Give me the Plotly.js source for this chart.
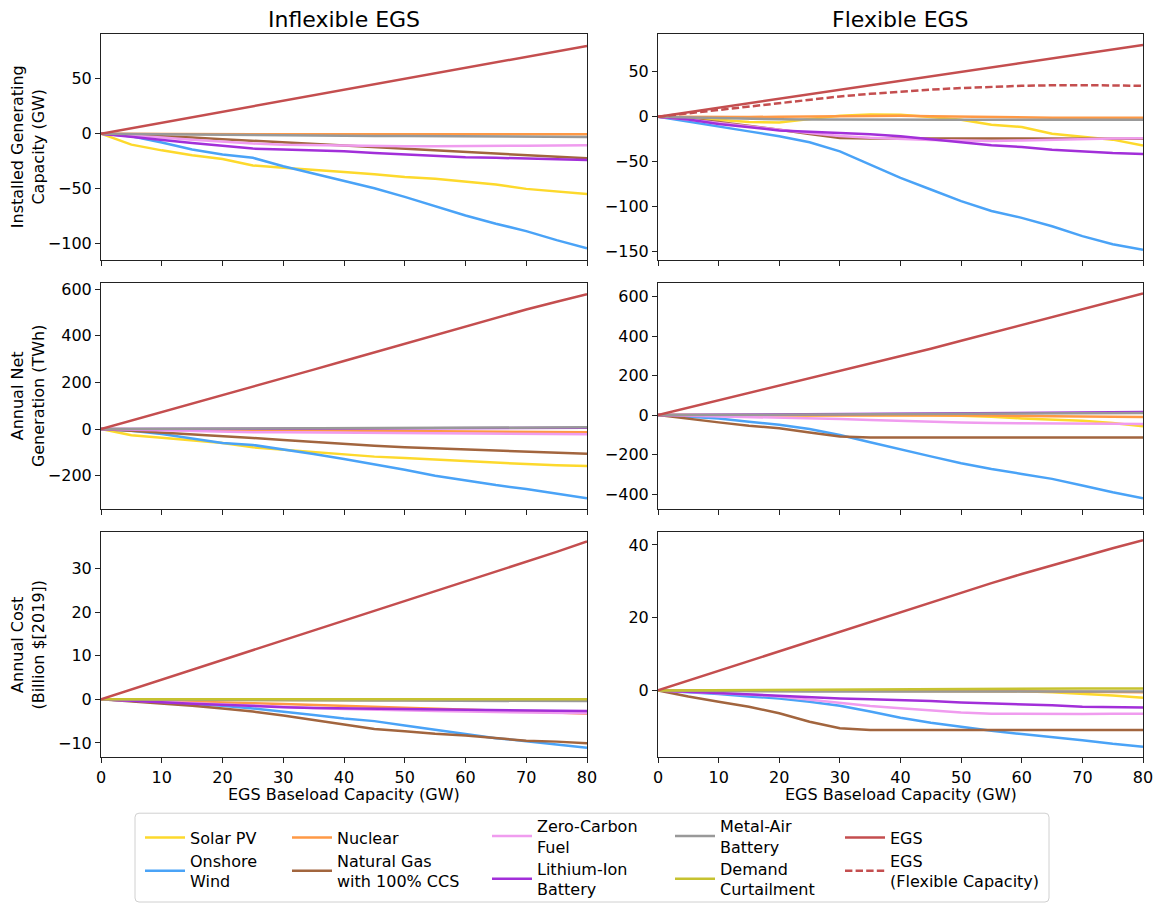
<!DOCTYPE html>
<html>
<head>
<meta charset="utf-8">
<script src="https://cdn.plot.ly/plotly-3.0.1.min.js"></script>
<style>
  html, body { margin: 0; padding: 0; background: #fff; }
  #chart { width: 1161px; height: 907px; }
</style>
</head>
<body>
<div id="chart"></div>
<script>
// EGS baseload capacity added to the system (GW)
const egsBaseload = [0, 5, 10, 15, 20, 25, 30, 35, 40, 45, 50, 55, 60, 65, 70, 75, 80];

// Change in installed generating capacity (GW) - inflexible EGS
const capInflexSolar   = [0, -10, -15.2, -19.7, -23, -29, -31, -33.3, -35, -37, -39.4, -41, -43.6, -46.4, -50.3, -52.4, -55];
const capInflexWind    = [0, -2.4, -8, -14.5, -19, -22, -29.7, -36.4, -43.3, -49.7, -57.6, -66, -74.5, -82, -88.8, -97, -104.5];
const capInflexNuclear = [0, -0.2, -0.3, -0.4, -0.5, -0.5, -0.5, -0.4, -0.4, -0.3, -0.3, -0.4, -0.5, -0.5, -0.5, -0.6, -0.6];
const capInflexGas     = [0, -1, -2.2, -3.5, -5, -6.5, -8, -9.2, -10.5, -12, -13.5, -15, -16.5, -18, -19.5, -21, -22.5];
const capInflexZCF     = [0, -1.5, -3.5, -5.5, -7.5, -9, -10, -10.5, -11, -11.3, -11.5, -11.5, -11.5, -11.2, -11, -10.8, -10.5];
const capInflexLiIon   = [0, -3, -5.5, -8.5, -11, -13.6, -14.5, -15.2, -16, -17.5, -19, -20.5, -21.5, -22, -22.5, -23, -24];
const capInflexMetalAir= [0, -0.3, -0.6, -0.9, -1.2, -1.4, -1.6, -1.8, -2, -2.1, -2.2, -2.3, -2.4, -2.5, -2.6, -2.8, -3];
const capInflexEGS     = [0, 5, 10, 15, 20, 25, 30, 35, 40, 45, 50, 55, 60, 65, 70, 75, 80];

// Change in installed generating capacity (GW) - flexible EGS
const capFlexSolar   = [0, -1.5, -3.3, -6, -6.3, -2.6, 1.1, 2.6, 2.2, -0.4, -3.3, -8.9, -11.5, -18.9, -22.6, -25.5, -32];
const capFlexWind    = [0, -5.2, -10.7, -16.3, -21.8, -28.5, -38.5, -53, -68, -81, -94, -105, -112.6, -122, -133, -142, -148];
const capFlexNuclear = [0, -0.3, -0.5, -0.3, 0, 0.3, 0.8, 1, 1, 0.6, 0, -0.5, -1, -1.2, -1.2, -1.1, -1.1];
const capFlexGas     = [0, -2.5, -6, -10, -14.4, -19.3, -23.7, -24.2, -24.3, -24.3, -24.3, -24.3, -24.3, -24.3, -24.3, -24.4, -24.4];
const capFlexZCF     = [0, -3, -7, -11, -14.5, -18, -21.5, -23.5, -25, -26, -26.5, -27, -26.5, -25.5, -24.8, -24.3, -24];
const capFlexLiIon   = [0, -3, -8, -11.5, -15.2, -16.7, -18, -19.6, -21.8, -24.8, -28.5, -31.8, -33.7, -36.7, -38.9, -40.4, -41.5];
const capFlexMetalAir= [0, -0.8, -1.6, -2.3, -2.8, -3, -3.2, -3.3, -3.3, -3.3, -3.3, -3.3, -3.3, -3.3, -3.3, -3.3, -3.3];
const capFlexEGS     = [0, 5, 10, 15, 20, 25, 30, 35, 40, 45, 50, 55, 60, 65, 70, 75, 80];
const capFlexEGSFlexible = [0, 3.8, 7.4, 11, 14.4, 18.5, 22.6, 25.5, 28, 30.2, 32, 33.3, 34.4, 35, 35.2, 34.9, 34.4];

// Change in annual net generation (TWh) - inflexible EGS
const genInflexSolar   = [0, -26, -37, -47, -60, -78, -88, -100, -110, -118, -124, -131, -138, -143, -150, -155, -158];
const genInflexWind    = [0, -7, -21, -40, -60, -68, -86, -107, -128, -150, -174, -200, -221, -240, -257, -278, -296];
const genInflexNuclear = [0, -1, -2, -3, -4, -5, -6, -7, -8, -8.5, -9, -10, -11, -12, -12.5, -13, -14];
const genInflexGas     = [0, -7, -14, -21, -28, -38, -47, -56, -64, -71, -78, -83, -87, -93, -97, -103, -106];
const genInflexZCF     = [0, -3, -6, -9, -11, -13, -14, -15, -16, -17, -18, -19, -20, -20.5, -21, -21.5, -22];
const genInflexLiIon   = [0, 0.5, 1, 1.5, 2, 2.3, 2.6, 3, 3.3, 3.6, 4, 4.3, 4.6, 5, 5.3, 5.6, 6];
const genInflexMetalAir= [0, 0.5, 1, 1.5, 2, 2.5, 3, 3.5, 4, 4.5, 5, 5.5, 6, 6.3, 6.6, 7, 7.5];
const genInflexEGS     = [0, 36, 73, 110, 146, 183, 219, 255, 292, 329, 366, 402, 440, 476, 513, 546, 578];

// Change in annual net generation (TWh) - flexible EGS
const genFlexSolar   = [0, -1, -2, -3, -3, -2, -1, 0, 0, -1, -3, -8, -17, -23, -29, -40, -56];
const genFlexWind    = [0, -8, -17, -34, -49, -71, -101, -138, -175, -209, -244, -273, -298, -323, -357, -391, -421];
const genFlexNuclear = [0, 0, 0, 0, 0, 0, 0, 0, 0, 0, 0, -2, -5, -7, -8, -9, -10];
const genFlexGas     = [0, -20, -37, -54, -67, -88, -108, -113, -113, -113, -113, -113, -113, -113, -113, -113, -113];
const genFlexZCF     = [0, -3, -7, -10, -12, -15, -20, -25, -30, -33, -37, -40, -42, -43, -44, -44.5, -45];
const genFlexLiIon   = [0, 1, 2, 3, 4, 5, 6, 7, 8, 9, 10, 11, 12, 12.5, 13, 14, 15];
const genFlexMetalAir= [0, 0.5, 1, 2, 3, 4, 5, 6, 6.5, 7, 7.5, 8, 8.5, 9, 9, 9.5, 10];
const genFlexEGS     = [0, 37, 74, 111, 148, 185, 222, 259, 296, 336, 376, 416, 456, 496, 536, 576, 616];

// Change in annual cost (billion 2019 $) - inflexible EGS
const costInflexSolar   = [0, -0.1, -0.1, -0.1, -0.15, -0.15, -0.2, -0.2, -0.2, -0.2, -0.2, -0.25, -0.25, -0.25, -0.3, -0.3, -0.3];
const costInflexWind    = [0, -0.3, -0.7, -1.1, -1.5, -2.1, -2.8, -3.6, -4.4, -5, -6, -7, -7.9, -8.9, -9.6, -10.4, -11.1];
const costInflexNuclear = [0, -0.15, -0.3, -0.5, -0.7, -0.9, -1.1, -1.3, -1.5, -1.7, -1.9, -2.1, -2.4, -2.6, -2.8, -3, -3.3];
const costInflexGas     = [0, -0.5, -0.9, -1.5, -2.1, -2.8, -3.7, -4.7, -5.8, -6.8, -7.3, -7.9, -8.3, -8.9, -9.5, -9.7, -10.1];
const costInflexZCF     = [0, -0.3, -0.6, -0.9, -1.2, -1.5, -1.8, -2, -2.2, -2.4, -2.6, -2.7, -2.8, -2.9, -3, -3.1, -3.2];
const costInflexLiIon   = [0, -0.4, -0.7, -1, -1.3, -1.6, -1.8, -2, -2.1, -2.2, -2.3, -2.4, -2.5, -2.55, -2.6, -2.65, -2.7];
const costInflexMetalAir= [0, -0.05, -0.1, -0.1, -0.15, -0.2, -0.2, -0.25, -0.25, -0.3, -0.3, -0.3, -0.35, -0.35, -0.4, -0.4, -0.4];
const costInflexDemand  = [0, 0, 0, 0, 0, 0, 0, 0, 0, 0, 0, 0, 0, 0, 0, 0, 0];
const costInflexEGS     = [0, 2.25, 4.5, 6.8, 9, 11.3, 13.5, 15.8, 18, 20.3, 22.5, 24.8, 27, 29.3, 31.5, 33.8, 36.2];

// Change in annual cost (billion 2019 $) - flexible EGS
const costFlexSolar   = [0, 0, 0, 0, 0, 0, 0, 0, 0, 0, 0, 0, -0.2, -0.5, -0.9, -1.4, -2];
const costFlexWind    = [0, -0.4, -1, -1.7, -2.2, -3.1, -4.2, -5.8, -7.5, -8.9, -10.1, -11.1, -12, -12.8, -13.7, -14.7, -15.5];
const costFlexNuclear = [0, 0, 0, 0, 0, 0, 0, 0, 0, 0, 0, -0.1, -0.2, -0.3, -0.4, -0.5, -0.5];
const costFlexGas     = [0, -1.7, -3.1, -4.5, -6.3, -8.6, -10.4, -10.9, -10.9, -10.9, -10.9, -10.9, -10.9, -10.9, -10.9, -10.9, -10.9];
const costFlexZCF     = [0, -0.3, -0.6, -1.1, -1.7, -2.6, -3.6, -4.3, -4.9, -5.5, -6.1, -6.4, -6.5, -6.5, -6.5, -6.4, -6.4];
const costFlexLiIon   = [0, -0.4, -0.8, -1.2, -1.6, -1.9, -2.2, -2.4, -2.6, -2.9, -3.3, -3.5, -3.8, -4.1, -4.5, -4.6, -4.7];
const costFlexMetalAir= [0, -0.1, -0.2, -0.2, -0.3, -0.3, -0.3, -0.3, -0.3, -0.3, -0.3, -0.3, -0.3, -0.3, -0.3, -0.3, -0.3];
const costFlexDemand  = [0, 0.05, 0.1, 0.1, 0.15, 0.2, 0.2, 0.25, 0.3, 0.3, 0.35, 0.4, 0.4, 0.45, 0.5, 0.5, 0.5];
const costFlexEGS     = [0, 2.7, 5.4, 8.0, 10.7, 13.4, 16.2, 18.9, 21.6, 24.3, 26.9, 29.5, 32, 34.4, 36.8, 39.1, 41.3];

// Technology styling and legend assignment (drawing order = list order)
const techs = {
  solar:    {name: 'Solar PV',                        color: '#fdd92c', legend: 'legend'},
  wind:     {name: 'Onshore<br>Wind',                 color: '#4aa3f7', legend: 'legend6'},
  nuclear:  {name: 'Nuclear',                         color: '#ff9945', legend: 'legend2'},
  gas:      {name: 'Natural Gas<br>with 100% CCS',    color: '#a2653e', legend: 'legend7'},
  zcf:      {name: 'Zero-Carbon<br>Fuel',             color: '#f09cef', legend: 'legend3'},
  liion:    {name: 'Lithium-Ion<br>Battery',          color: '#a22fd9', legend: 'legend8'},
  metalair: {name: 'Metal-Air<br>Battery',            color: '#999999', legend: 'legend4'},
  demand:   {name: 'Demand<br>Curtailment',           color: '#c6c230', legend: 'legend9'},
  egs:      {name: 'EGS',                             color: '#c44e4f', legend: 'legend5'},
  egsflex:  {name: 'EGS<br>(Flexible Capacity)',      color: '#c44e4f', legend: 'legend10', dash: '7.4px,3.2px'}
};

const panels = [
  {xa: 'x',  ya: 'y',  series: {solar: capInflexSolar, wind: capInflexWind, nuclear: capInflexNuclear, gas: capInflexGas,
                                zcf: capInflexZCF, liion: capInflexLiIon, metalair: capInflexMetalAir, egs: capInflexEGS}},
  {xa: 'x2', ya: 'y2', series: {solar: capFlexSolar, wind: capFlexWind, nuclear: capFlexNuclear, gas: capFlexGas,
                                zcf: capFlexZCF, liion: capFlexLiIon, metalair: capFlexMetalAir, egs: capFlexEGS, egsflex: capFlexEGSFlexible}},
  {xa: 'x3', ya: 'y3', series: {solar: genInflexSolar, wind: genInflexWind, nuclear: genInflexNuclear, gas: genInflexGas,
                                zcf: genInflexZCF, liion: genInflexLiIon, metalair: genInflexMetalAir, egs: genInflexEGS}},
  {xa: 'x4', ya: 'y4', series: {solar: genFlexSolar, wind: genFlexWind, nuclear: genFlexNuclear, gas: genFlexGas,
                                zcf: genFlexZCF, liion: genFlexLiIon, metalair: genFlexMetalAir, egs: genFlexEGS}},
  {xa: 'x5', ya: 'y5', series: {solar: costInflexSolar, wind: costInflexWind, nuclear: costInflexNuclear, gas: costInflexGas,
                                zcf: costInflexZCF, liion: costInflexLiIon, metalair: costInflexMetalAir, demand: costInflexDemand, egs: costInflexEGS}},
  {xa: 'x6', ya: 'y6', series: {solar: costFlexSolar, wind: costFlexWind, nuclear: costFlexNuclear, gas: costFlexGas,
                                zcf: costFlexZCF, liion: costFlexLiIon, metalair: costFlexMetalAir, demand: costFlexDemand, egs: costFlexEGS}}
];

const traces = [];
const shown = {};
panels.forEach(p => {
  Object.keys(techs).forEach(key => {
    const vals = p.series[key];
    if (!vals) return;
    const t = techs[key];
    traces.push({
      type: 'scatter', mode: 'lines',
      x: egsBaseload, y: vals,
      xaxis: p.xa, yaxis: p.ya,
      name: t.name,
      legend: t.legend,
      showlegend: !shown[key],
      line: {color: t.color, width: 2.5, dash: t.dash || 'solid'},
      hoverinfo: 'skip'
    });
    shown[key] = true;
  });
});

// Figure geometry in pixels
const W = 1161, H = 907;
const colX = [[101, 587], [658, 1143]];
const rowY = [[34, 261], [284, 510], [533, 759]];
const px = v => v / W;
const py = v => 1 - v / H;

const font = {family: 'DejaVu Sans, Verdana, sans-serif', size: 16, color: '#000'};

function xaxisDef(col, row) {
  return {
    domain: [px(colX[col][0]), px(colX[col][1])],
    range: [0, 80], dtick: 10, tick0: 0,
    showticklabels: row === 2,
    ticks: 'outside', ticklen: 5, tickwidth: 1, tickcolor: '#222',
    showline: true, mirror: true, linecolor: '#222', linewidth: 1,
    showgrid: false, zeroline: false,
    tickfont: font, fixedrange: true
  };
}
function yaxisDef(col, row, range, dtick) {
  return {
    domain: [py(rowY[row][1]), py(rowY[row][0])],
    range: range, dtick: dtick, tick0: 0,
    ticks: 'outside', ticklen: 5, tickwidth: 1, tickcolor: '#222',
    showline: true, mirror: true, linecolor: '#222', linewidth: 1,
    showgrid: false, zeroline: false,
    tickfont: font, fixedrange: true
  };
}

const layout = {
  width: W, height: H,
  margin: {l: 0, r: 0, t: 0, b: 0},
  paper_bgcolor: '#fff', plot_bgcolor: '#fff',
  font: font,
  xaxis:  Object.assign(xaxisDef(0, 0), {anchor: 'y'}),
  xaxis2: Object.assign(xaxisDef(1, 0), {anchor: 'y2'}),
  xaxis3: Object.assign(xaxisDef(0, 1), {anchor: 'y3'}),
  xaxis4: Object.assign(xaxisDef(1, 1), {anchor: 'y4'}),
  xaxis5: Object.assign(xaxisDef(0, 2), {anchor: 'y5'}),
  xaxis6: Object.assign(xaxisDef(1, 2), {anchor: 'y6'}),
  yaxis:  Object.assign(yaxisDef(0, 0, [-115.5, 90.9], 50),  {anchor: 'x'}),
  yaxis2: Object.assign(yaxisDef(1, 0, [-160, 92.2], 50),    {anchor: 'x2'}),
  yaxis3: Object.assign(yaxisDef(0, 1, [-342, 624.7], 200),  {anchor: 'x3'}),
  yaxis4: Object.assign(yaxisDef(1, 1, [-475, 667], 200),    {anchor: 'x4'}),
  yaxis5: Object.assign(yaxisDef(0, 2, [-13.3, 38.4], 10),   {anchor: 'x5'}),
  yaxis6: Object.assign(yaxisDef(1, 2, [-18.4, 43.6], 20),   {anchor: 'x6'}),
  annotations: [],
  shapes: []
};

// Column titles
[['Inflexible EGS', 0], ['Flexible EGS', 1]].forEach(([txt, c]) => {
  layout.annotations.push({
    xref: 'paper', yref: 'paper', x: px((colX[c][0] + colX[c][1]) / 2), y: py(20),
    xanchor: 'center', yanchor: 'middle', showarrow: false,
    text: txt, font: Object.assign({}, font, {size: 22})
  });
});
// Bottom axis titles
[0, 1].forEach(c => {
  layout.annotations.push({
    xref: 'paper', yref: 'paper', x: px((colX[c][0] + colX[c][1]) / 2), y: py(796),
    xanchor: 'center', yanchor: 'middle', showarrow: false,
    text: 'EGS Baseload Capacity (GW)', font: font
  });
});
// Row titles
['Installed Generating<br>Capacity (GW)', 'Annual Net<br>Generation (TWh)', 'Annual Cost<br>(Billion $[2019])'].forEach((txt, r) => {
  layout.annotations.push({
    xref: 'paper', yref: 'paper', x: px(28), y: py((rowY[r][0] + rowY[r][1]) / 2),
    xanchor: 'center', yanchor: 'middle', showarrow: false, textangle: -90,
    text: txt, font: font
  });
});

// Legend: five columns; each entry is its own legend box so that columns stack like a table
const legendSlots = {
  legend:   {left: 140, mid: 839.5}, legend6:  {left: 140, mid: 873},
  legend2:  {left: 287, mid: 839.5}, legend7:  {left: 287, mid: 873},
  legend3:  {left: 487, mid: 838},   legend8:  {left: 487, mid: 881},
  legend4:  {left: 670, mid: 838},   legend9:  {left: 670, mid: 881},
  legend5:  {left: 840, mid: 839.5}, legend10: {left: 840, mid: 873}
};
Object.keys(legendSlots).forEach(id => {
  const s = legendSlots[id];
  layout[id] = {
    x: px(s.left), y: py(s.mid), xanchor: 'left', yanchor: 'middle',
    xref: 'paper', yref: 'paper',
    orientation: 'v', bgcolor: 'rgba(0,0,0,0)', borderwidth: 0,
    font: font, itemwidth: 40, itemclick: false, itemdoubleclick: false
  };
});
// Legend frame with rounded corners
(function () {
  const x0 = 135, x1 = 1049, y0 = 815, y1 = 904, r = 4;
  const P = (x, y) => px(x) + ',' + py(y);
  const path = 'M' + P(x0 + r, y0) + ' L' + P(x1 - r, y0) + ' Q' + P(x1, y0) + ' ' + P(x1, y0 + r) +
               ' L' + P(x1, y1 - r) + ' Q' + P(x1, y1) + ' ' + P(x1 - r, y1) +
               ' L' + P(x0 + r, y1) + ' Q' + P(x0, y1) + ' ' + P(x0, y1 - r) +
               ' L' + P(x0, y0 + r) + ' Q' + P(x0, y0) + ' ' + P(x0 + r, y0) + ' Z';
  layout.shapes.push({type: 'path', xref: 'paper', yref: 'paper', path: path,
                      line: {color: '#d0d0d0', width: 1}, fillcolor: 'rgba(255,255,255,0.8)', layer: 'below'});
})();

Plotly.newPlot('chart', traces, layout, {displayModeBar: false, staticPlot: true});
</script>
</body>
</html>
